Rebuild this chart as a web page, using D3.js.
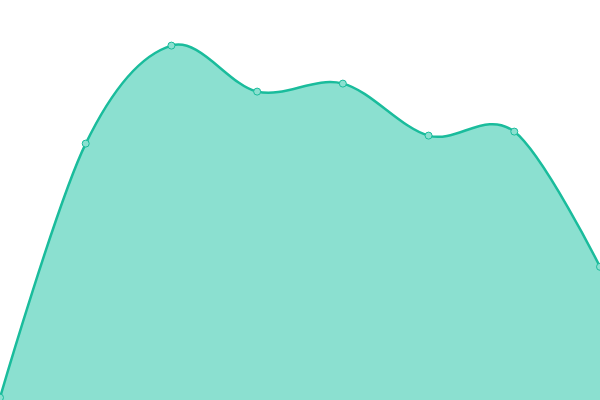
<!DOCTYPE html>
<html>
<head>
<meta charset="utf-8">
<script src="https://cdn.jsdelivr.net/npm/d3@7"></script>
<style>
  html, body { margin: 0; padding: 0; background: #ffffff; }
  svg { display: block; }
</style>
</head>
<body>
<div id="chart"></div>
<script>
// Chart data
const categories = ['A', 'B', 'C', 'D', 'E', 'F', 'G', 'H'];
const seriesValues = [0.6, 64.1, 88.6, 77.1, 79.1, 66.1, 67.1, 33.3];

const width = 600;
const height = 400;

const svg = d3.select('#chart').append('svg')
    .attr('width', width)
    .attr('height', height);

const x = d3.scalePoint()
    .domain(categories)
    .range([0, width]);

const y = d3.scaleLinear()
    .domain([0, 100])
    .range([height, 0]);

const curve = d3.curveCardinal.tension(0);

const area = d3.area()
    .x(d => x(d.cat))
    .y0(height)
    .y1(d => y(d.value))
    .curve(curve);

const line = d3.line()
    .x(d => x(d.cat))
    .y(d => y(d.value))
    .curve(curve);

const points = categories.map((c, i) => ({ cat: c, value: seriesValues[i] }));

svg.append('path')
    .datum(points)
    .attr('d', area)
    .style('fill', '#8be0d0');

svg.append('path')
    .datum(points)
    .attr('d', line)
    .style('fill', 'none')
    .style('stroke', '#1abc9c')
    .style('stroke-width', 2.5);

svg.selectAll('.dot')
    .data(points)
    .enter()
    .append('circle')
    .attr('class', 'dot')
    .attr('cx', d => x(d.cat))
    .attr('cy', d => y(d.value))
    .attr('r', 3.5)
    .style('fill', '#8be0d0')
    .style('stroke', '#1abc9c')
    .style('stroke-width', 1);
</script>
</body>
</html>
